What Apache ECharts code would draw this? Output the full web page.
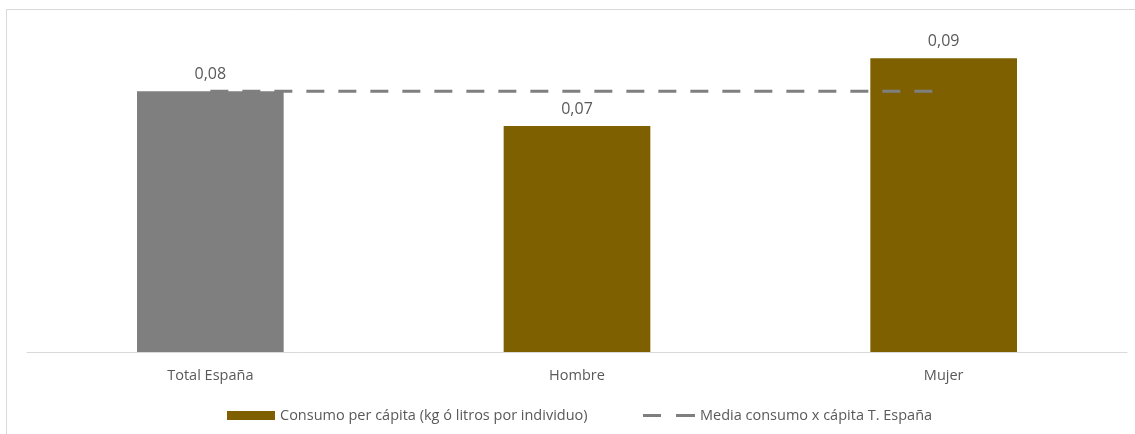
<!DOCTYPE html>
<html>
<head>
<meta charset="utf-8">
<script src="https://cdn.jsdelivr.net/npm/echarts@6/dist/echarts.min.js"></script>
<style>
html,body{margin:0;padding:0;background:#fff;}
#chart{width:1135px;height:434px;}
</style>
</head>
<body>
<div id="chart"></div>
<script>
const categories = ['Total España', 'Hombre', 'Mujer'];
const consumoValues = [0.0800, 0.0693, 0.0901];
const mediaValues = [0.0800, 0.0800, 0.0800];
const barName = 'Consumo per cápita (kg ó litros por individuo)';
const lineName = 'Media consumo x cápita T. España';

const chart = echarts.init(document.getElementById('chart'));
const fontFam = '"Open Sans", "Liberation Sans", sans-serif';
const legendText = { fontFamily: fontFam, fontSize: 14.5, color: '#595959' };
chart.setOption({
  animation: false,
  backgroundColor: '#ffffff',
  graphic: [{
    type: 'rect', silent: true, z: -1,
    shape: { x: 6.5, y: 9.5, width: 1200, height: 500 },
    style: { fill: 'none', stroke: '#d9d9d9', lineWidth: 1 }
  }],
  grid: { left: 27, right: 8, top: 26, bottom: 82, containLabel: false },
  legend: [
    {
      left: 222, top: 403,
      itemWidth: 48, itemHeight: 9,
      textStyle: legendText,
      data: [{ name: barName, icon: 'rect' }]
    },
    {
      left: 638, top: 403,
      itemWidth: 52, itemHeight: 3,
      textStyle: legendText,
      data: [{ name: lineName, icon: 'path://M0,0h18v3h-18z M33,0h19v3h-19z', itemStyle: { color: '#7f7f7f' } }]
    }
  ],
  xAxis: {
    type: 'category',
    data: categories,
    axisLine: { lineStyle: { color: '#d9d9d9', width: 1 } },
    axisTick: { show: false },
    axisLabel: { fontFamily: fontFam, fontSize: 14.5, color: '#595959', margin: 16 }
  },
  yAxis: {
    type: 'value', min: 0, max: 0.1, interval: 0.02,
    show: false,
    splitLine: { show: false }
  },
  series: [
    {
      name: barName,
      type: 'bar',
      barWidth: '40%',
      itemStyle: { color: '#7f6000' },
      data: consumoValues.map((v, i) => i === 0 ? { value: v, itemStyle: { color: '#7f7f7f' } } : v),
      label: {
        show: true, position: 'top', distance: 9,
        fontFamily: fontFam, fontSize: 16, color: '#595959',
        formatter: p => p.value.toFixed(2).replace('.', ',')
      },
      z: 2
    },
    {
      name: lineName,
      type: 'line',
      data: mediaValues,
      symbol: 'none',
      showSymbol: false,
      itemStyle: { color: '#7f7f7f' },
      lineStyle: { color: '#7f7f7f', width: 3, type: [18, 14] },
      z: 3
    }
  ]
});
</script>
</body>
</html>
